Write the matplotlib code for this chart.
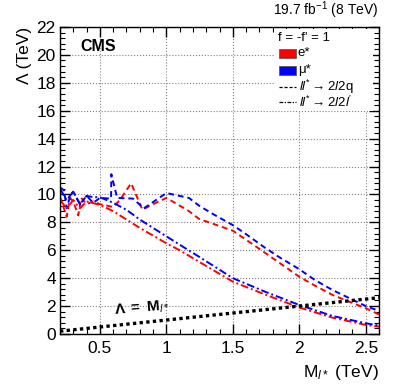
import matplotlib
matplotlib.use("Agg")
import matplotlib.pyplot as plt
from matplotlib.lines import Line2D
from matplotlib.patches import Rectangle

plt.rcParams['font.family'] = ['Liberation Sans', 'DejaVu Sans']
plt.rcParams['mathtext.fontset'] = 'custom'
plt.rcParams['mathtext.rm'] = 'Liberation Sans'
plt.rcParams['mathtext.it'] = 'Liberation Sans:italic'
plt.rcParams['mathtext.bf'] = 'Liberation Sans:bold'

# e*, ll* -> 2l2q (red dashed)
m_e_qq = [0.2, 0.25, 0.275, 0.3, 0.337, 0.36, 0.4, 0.45, 0.5, 0.6, 0.65, 0.735, 0.82, 0.9,
          1.0, 1.1, 1.17, 1.245, 1.35, 1.5, 1.6, 1.73, 1.85, 2.0, 2.12, 2.25, 2.38, 2.5, 2.6]
lam_e_qq = [9.85, 8.4, 9.75, 9.5, 8.5, 9.75, 9.3, 9.5, 9.3, 9.1, 9.6, 10.8, 8.9, 9.3,
            9.75, 9.2, 8.8, 8.25, 7.9, 7.4, 6.75, 5.9, 5.1, 4.1, 3.45, 2.8, 2.3, 1.84, 1.4]

# mu*, ll* -> 2l2q (blue dashed)
m_mu_qq = [0.2, 0.23, 0.25, 0.28, 0.3, 0.35, 0.4, 0.45, 0.5, 0.584, 0.586, 0.63, 0.75, 0.83,
           1.0, 1.17, 1.245, 1.35, 1.5, 1.6, 1.73, 1.85, 2.0, 2.12, 2.25, 2.38, 2.5, 2.6]
lam_mu_qq = [10.5, 10.3, 9.0, 10.0, 10.2, 9.3, 9.9, 9.4, 9.75, 9.7, 11.45, 9.75, 9.7, 9.0,
             10.1, 9.75, 9.2, 8.6, 7.8, 7.15, 6.26, 5.5, 4.64, 3.85, 3.15, 2.55, 2.0, 1.65]

# e*, ll* -> 2l2l' (red dash-dot)
m_e_ll = [0.2, 0.25, 0.3, 0.35, 0.4, 0.5, 0.6, 0.7, 0.8, 0.9, 1.0, 1.1, 1.245, 1.5, 1.75,
          2.0, 2.25, 2.5, 2.6]
lam_e_ll = [9.6, 9.0, 9.6, 9.0, 9.5, 9.25, 8.8, 8.2, 7.6, 7.05, 6.5, 6.0, 5.18, 3.75, 2.8,
            1.9, 1.17, 0.65, 0.52]

# mu*, ll* -> 2l2l' (blue dash-dot)
m_mu_ll = [0.2, 0.25, 0.3, 0.35, 0.4, 0.45, 0.5, 0.6, 0.7, 0.8, 0.9, 1.0, 1.1, 1.245, 1.5,
           1.75, 2.0, 2.25, 2.5, 2.6]
lam_mu_ll = [10.4, 9.6, 10.2, 9.3, 9.9, 9.8, 9.8, 9.4, 8.9, 8.2, 7.6, 7.0, 6.4, 5.54, 4.0,
             3.0, 2.08, 1.29, 0.77, 0.6]

# Lambda = M line
m_diag = [0.2, 2.6]
lam_diag = [0.2, 2.6]

fig = plt.figure(figsize=(3.99, 3.85), dpi=100)
ax = fig.add_axes([0.1504, 0.1325, 0.7996, 0.7975])

dash = (0, (3, 2))
dashdot = (0, (4, 1.5, 1, 1.5))
ax.plot(m_e_qq, lam_e_qq, color='#ff0000', lw=1.4, ls=dash)
ax.plot(m_mu_qq, lam_mu_qq, color='#0000ff', lw=1.4, ls=dash)
ax.plot(m_e_ll, lam_e_ll, color='#ff0000', lw=1.4, ls=dashdot)
ax.plot(m_mu_ll, lam_mu_ll, color='#0000ff', lw=1.4, ls=dashdot)
ax.plot(m_diag, lam_diag, color='black', lw=2.4, ls=(0, (1, 1)))

ax.set_xlim(0.2, 2.6)
ax.set_ylim(0, 22)
ax.set_xticks([0.5, 1, 1.5, 2, 2.5])
ax.set_xticklabels(['0.5', '1', '1.5', '2', '2.5'])
ax.set_yticks(range(0, 23, 2))
ax.set_xticks([x / 10 for x in range(2, 27)], minor=True)
ax.set_yticks([y * 0.4 for y in range(0, 56)], minor=True)
ax.tick_params(which='both', direction='in', top=True, right=True, labelsize=12.5)
ax.tick_params(which='major', length=7, width=1)
ax.tick_params(which='minor', length=3.5, width=0.8)
ax.tick_params(axis='x', pad=5)
ax.tick_params(axis='y', pad=3)
ax.grid(True, which='major', ls=':', color='0.5', lw=0.8)
for s in ax.spines.values():
    s.set_linewidth(1.0)

ax.set_ylabel('Λ (TeV)', fontsize=12.5, loc='top', labelpad=3)
ax.set_xlabel('M$_{l*}$ (TeV)', fontsize=12.5, loc='right', labelpad=5)

ax.text(0.063, 0.962, 'CMS', transform=ax.transAxes, fontsize=11.5, fontweight='bold', va='top')
fig.text(0.948, 0.945, '19.7 fb$^{-1}$ (8 TeV)', ha='right', va='bottom', fontsize=10)
ax.text(0.61, 1.1, r'$\mathbf{\Lambda\ =\ M}_{\mathbf{\mathit{l*}}}$', fontsize=11,
        rotation=5, rotation_mode='anchor', ha='left', va='bottom',
        transform=ax.transData)

# legend drawn by hand in figure pixel coordinates
W, H = 399.0, 385.0


def fx(px):
    return px / W


def fy(py):
    return 1 - py / H


fig.patches.append(Rectangle((fx(274), fy(111)), fx(373) - fx(274), fy(29) - fy(111),
                             transform=fig.transFigure, facecolor='white', edgecolor='none', zorder=3))
fig.text(fx(278), fy(38), "f = -f' = 1", fontsize=9.5, va='center', zorder=4)
rows = [(53, '#ff0000', 'e*'), (70.5, '#0000ff', 'μ*')]
for py, col, lab in rows:
    fig.patches.append(Rectangle((fx(279), fy(py + 4.5)), fx(296) - fx(279), fy(py - 4.5) - fy(py + 4.5),
                                 transform=fig.transFigure, facecolor=col, edgecolor='0.3',
                                 lw=0.5, zorder=4))
    fig.text(fx(298), fy(py), lab, fontsize=9.5, va='center', zorder=4)
for py, ls, lab in [(86.5, (0, (2.5, 1.5)), r'$ll^{*} \rightarrow \mathrm{2}l\mathrm{2q}$'),
                    (102, (0, (3, 1.2, 1, 1.2)), r"$ll^{*} \rightarrow \mathrm{2}l\mathrm{2}l'$")]:
    fig.lines.append(Line2D([fx(279), fx(296)], [fy(py), fy(py)], transform=fig.transFigure,
                            color='black', lw=0.9, ls=ls, zorder=4))
    fig.text(fx(299), fy(py), lab, fontsize=9.5, va='center', zorder=4)

fig.savefig('out.png', dpi=100)
